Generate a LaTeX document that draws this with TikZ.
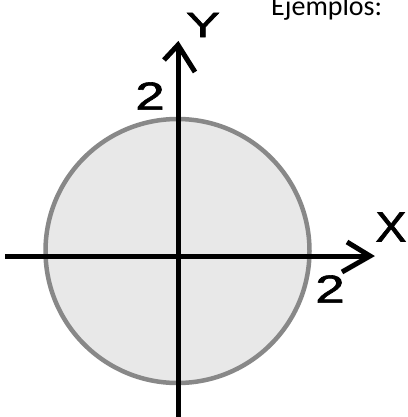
\documentclass[tikz,border=0pt]{standalone}
\usepackage{fontspec}
\setmainfont{Liberation Sans}
\newfontfamily\carlito{Carlito}
\newfontfamily\lblfont[FakeBold=1.5]{Liberation Sans}
\definecolor{circgray}{RGB}{136,136,136}
\definecolor{circfill}{RGB}{232,232,232}
\tikzset{
  axisline/.style={line width=5pt, black},
  barb/.style={line width=5pt, black, line cap=butt, line join=miter},
  lbl/.style={inner sep=0pt, font=\lblfont},
}
\begin{document}
\begin{tikzpicture}[x=1pt,y=-1pt]
\useasboundingbox (0,0) rectangle (407,417);
% circle
\node[circle, draw=circgray, fill=circfill, line width=4.5pt, minimum size=264pt, inner sep=0pt] (circ) at (177.5,251) {};
% axes
\coordinate (xs) at (5,256);
\coordinate (xe) at (369,256);
\coordinate (ys) at (178,417);
\coordinate (ye) at (178,46);
\draw[axisline] (xs) -- (xe);
\draw[axisline] (ys) -- (ye);
% arrowheads
\coordinate (xb1) at (347,242);
\coordinate (xb2) at (342,272);
\coordinate (xt) at (370,256);
\draw[barb] (xb1) -- (xt) -- (xb2);
\coordinate (yb1) at (164,60);
\coordinate (yb2) at (195,72);
\coordinate (yt) at (178,45);
\draw[barb] (yb1) -- (yt) -- (yb2);
% labels
\node[lbl] (ylab) at (203,25) {\scalebox{1.45}[1]{\fontsize{35}{35}\selectfont Y}};
\node[lbl] (xlab) at (391,227) {\scalebox{1.1}[1]{\fontsize{42}{42}\selectfont X}};
\node[lbl] (two1) at (150,96) {\scalebox{1.35}[1]{\fontsize{39}{39}\selectfont 2}};
\node[lbl] (two2) at (330,289) {\scalebox{1.35}[1]{\fontsize{39}{39}\selectfont 2}};
\node[inner sep=0pt, anchor=base west, font=\carlito\fontsize{28}{28}\selectfont] (ej) at (271,16) {Ejemplos:};
\end{tikzpicture}
\end{document}
